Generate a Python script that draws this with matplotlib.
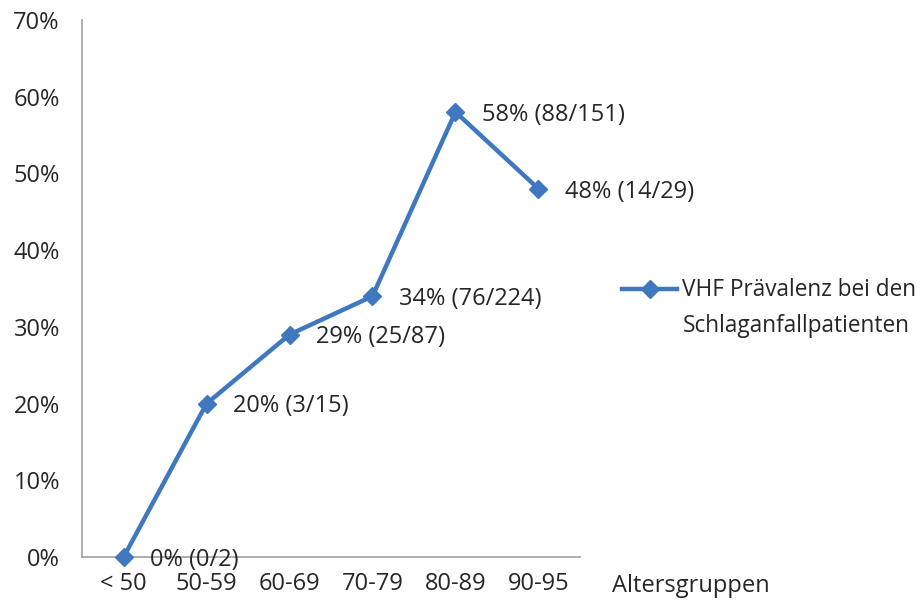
import matplotlib.pyplot as plt
from matplotlib.lines import Line2D
from matplotlib.ticker import FuncFormatter

plt.rcParams['font.family'] = ['Open Sans', 'DejaVu Sans']

age_groups = ['< 50', '50-59', '60-69', '70-79', '80-89', '90-95']
prevalence = [0, 20, 29, 34, 58, 48]
cases = ['0/2', '3/15', '25/87', '76/224', '88/151', '14/29']
series_name = ['VHF Prävalenz bei den', 'Schlaganfallpatienten']

blue = '#3F78BF'
grey = '#A6A6A6'
text_col = '#262626'
fs = 17

fig = plt.figure(figsize=(9.22, 6.03), dpi=100)
ax = fig.add_axes([0.089, 0.076, 0.54, 0.891])

x = list(range(len(age_groups)))
ax.plot(x, prevalence, color=blue, lw=3.2, marker='D', ms=9.5, mfc=blue, mec=blue,
        clip_on=False, zorder=3)

for xi, val, c in zip(x, prevalence, cases):
    ax.annotate(f'{val}% ({c})', (xi, val), xytext=(19, -2), textcoords='offset points',
                ha='left', va='center', fontsize=fs, color=text_col)

ax.set_xlim(-0.5, len(age_groups) - 0.5)
ax.set_ylim(0, 70)
ax.set_yticks(range(0, 71, 10))
ax.yaxis.set_major_formatter(FuncFormatter(lambda v, p: f'{v:.0f}%'))
ax.set_xticks(x)
ax.set_xticklabels(age_groups)
ax.tick_params(axis='both', length=0, labelsize=fs, colors=text_col)
ax.tick_params(axis='y', pad=16)
ax.tick_params(axis='x', pad=11)

for side in ['top', 'right']:
    ax.spines[side].set_visible(False)
for side in ['left', 'bottom']:
    ax.spines[side].set_color(grey)
    ax.spines[side].set_linewidth(1.3)

ax.text(1.064, -0.054, 'Altersgruppen', transform=ax.transAxes, ha='left', va='center',
        fontsize=fs, color=text_col)

handles = [Line2D([], [], color=blue, lw=3.2, marker='D', ms=9.5),
           Line2D([], [], color='none')]
fig.legend(handles, series_name, loc='center left', bbox_to_anchor=(0.653, 0.489),
           frameon=False, fontsize=16.3, handlelength=2.4, handletextpad=0.25,
           labelspacing=0.5, labelcolor=text_col)

fig.savefig('out.png', dpi=100)
